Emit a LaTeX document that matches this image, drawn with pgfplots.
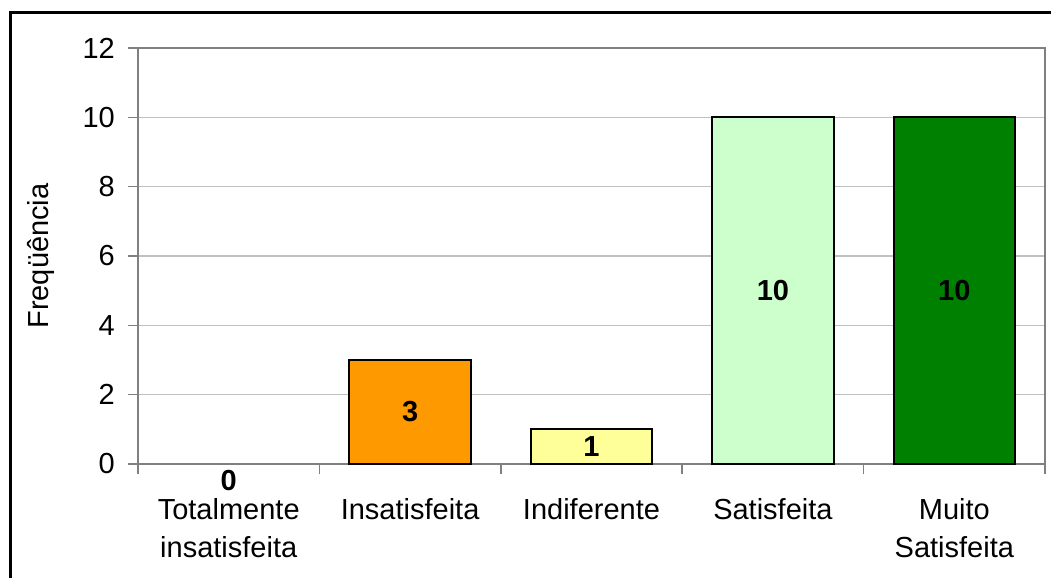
\documentclass[border=0pt]{standalone}
\usepackage{fontspec}
\setmainfont{Liberation Sans}
\usepackage{pgfplots}
\pgfplotsset{compat=1.18}
\definecolor{gridc}{HTML}{C0C0C0}
\definecolor{axc}{HTML}{808080}
\definecolor{c1}{HTML}{FF9900}
\definecolor{c2}{HTML}{FFFF99}
\definecolor{c3}{HTML}{CCFFCC}
\definecolor{c4}{HTML}{008000}
\newcommand\f{\fontsize{29bp}{38bp}\selectfont}
\pgfplotsset{
  midlab/.style={nodes near coords, visualization depends on=y \as \rawy,
    every node near coord/.append style={font=\f\bfseries, text=black, anchor=center, inner sep=0pt,
      shift={(axis direction cs:0,-\rawy/2)}}},
  zerolab/.style={nodes near coords,
    every node near coord/.append style={font=\f\bfseries, text=black, anchor=center, inner sep=0pt, yshift=-17bp}},
  mybar/.style={ybar, bar width=121.5bp, bar shift=0pt, draw=black, line width=2bp},
}
\begin{document}
\begin{tikzpicture}
\useasboundingbox (-138bp,-114bp) rectangle (913bp,464bp);
\clip (-138bp,-114bp) rectangle (913bp,464bp);
\draw[line width=3bp] (-127.5bp,-300bp) rectangle (1200bp,451.5bp);
\begin{axis}[
  at={(0,0)}, anchor=south west, scale only axis,
  width=907bp, height=416bp,
  xmin=-0.5, xmax=4.5, ymin=0, ymax=12,
  ytick={0,2,...,12},
  xtick={0,...,4},
  xticklabels={{Totalmente\\insatisfeita},Insatisfeita,Indiferente,Satisfeita,{Muito\\Satisfeita}},
  minor xtick={-0.5,0.5,...,4.5},
  ymajorgrids, grid style={gridc, line width=1.5bp},
  axis line style={axc, line width=2bp},
  tick align=outside, tick pos=left,
  major tick length=10bp, minor tick length=10bp,
  major x tick style={draw=none},
  minor x tick style={axc, line width=1.5bp},
  ytick style={axc, line width=1.5bp},
  /pgf/number format/assume math mode=true,
  ticklabel style={font=\f},
  xticklabel style={align=center, inner sep=0pt, yshift=-24bp},
  yticklabel style={inner sep=0pt, xshift=-13bp},
  ylabel={Freqüência},
  every axis y label/.style={at={(axis description cs:-0.0987,0.5)}, anchor=base, rotate=90, font=\f},
]
\addplot[mybar, draw=none, fill=none, zerolab] coordinates {(0,0)};
\addplot[mybar, fill=c1, midlab] coordinates {(1,3)};
\addplot[mybar, fill=c2, midlab] coordinates {(2,1)};
\addplot[mybar, fill=c3, midlab] coordinates {(3,10)};
\addplot[mybar, fill=c4, midlab] coordinates {(4,10)};
\end{axis}
\end{tikzpicture}
\end{document}
